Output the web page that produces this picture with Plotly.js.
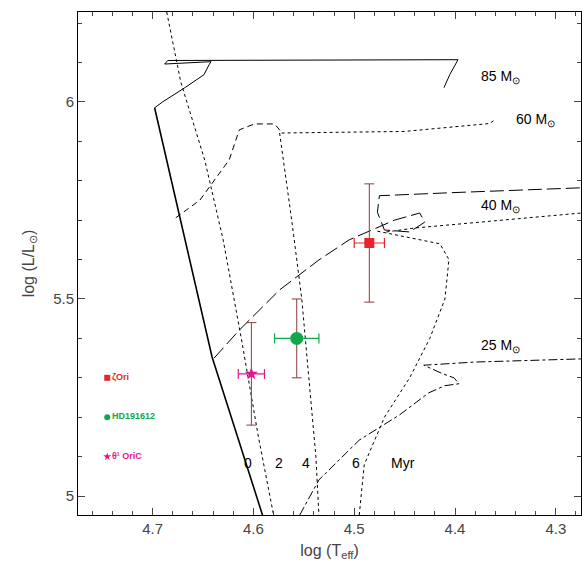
<!DOCTYPE html>
<html><head><meta charset="utf-8">
<script src="https://cdn.plot.ly/plotly-3.0.1.min.js"></script>
<style>body{margin:0}#p{width:582px;height:574px}</style>
</head><body><div id="p"></div>
<script>
// evolutionary tracks (log Teff, log L)
const zamsT = [4.591, 4.641, 4.698];
const zamsL = [4.952, 5.353, 5.985];
const t85T = [4.698, 4.690, 4.668, 4.649, 4.644, 4.642, 4.688, 4.685, 4.397, 4.405, 4.411];
const t85L = [5.985, 6.000, 6.036, 6.069, 6.094, 6.102, 6.096, 6.105, 6.107, 6.070, 6.036];
const t60T = [4.677, 4.653, 4.624, 4.614, 4.599, 4.579, 4.574, 4.572];
const t60L = [5.706, 5.751, 5.853, 5.929, 5.944, 5.944, 5.929, 5.921];
const t60dT = [4.572, 4.450, 4.366, 4.360];
const t60dL = [5.921, 5.925, 5.945, 5.955];
const t40T = [4.639, 4.614, 4.574, 4.535, 4.505, 4.485, 4.460, 4.435, 4.430, 4.445, 4.470, 4.477, 4.475, 4.400, 4.275];
const t40L = [5.350, 5.421, 5.523, 5.599, 5.650, 5.672, 5.700, 5.718, 5.695, 5.670, 5.675, 5.720, 5.762, 5.770, 5.782];
const t40dT = [4.468, 4.440, 4.275];
const t40dL = [5.670, 5.680, 5.718];
const t25T = [4.554, 4.535, 4.495, 4.455, 4.426, 4.410, 4.396, 4.401, 4.412, 4.431, 4.380, 4.275];
const t25L = [4.952, 5.041, 5.142, 5.206, 5.262, 5.280, 5.285, 5.300, 5.310, 5.332, 5.340, 5.348];
// isochrones
const iso2T = [4.686, 4.672, 4.648, 4.630, 4.612, 4.595, 4.580];
const iso2L = [6.228, 6.050, 5.850, 5.650, 5.400, 5.150, 4.952];
const iso4T = [4.574, 4.562, 4.552, 4.545, 4.538, 4.535];
const iso4L = [5.921, 5.700, 5.500, 5.300, 5.100, 4.952];
const iso6T = [4.477, 4.445, 4.415, 4.406, 4.410, 4.425, 4.445, 4.470, 4.490, 4.495];
const iso6L = [5.672, 5.655, 5.640, 5.600, 5.500, 5.400, 5.300, 5.200, 5.080, 4.952];
// stars
const starNames = ['ζOri', 'HD191612', 'θ¹ OriC'];
const starT = [4.485, 4.557, 4.602];
const starL = [5.642, 5.400, 5.310];
const errT = [0.015, 0.022, 0.013];
const errL = [0.15, 0.10, 0.13];
const starColors = ['#e8252b', '#10a84a', '#e0188a'];
const starSymbols = ['square', 'circle', 'star'];
const starSizes = [10, 13, 10];

function line(x, y, dash, w) {
  return {x: x, y: y, mode: 'lines', line: {color: 'black', width: w || 1, dash: dash}, hoverinfo: 'skip'};
}
const data = [
  line(zamsT, zamsL, 'solid', 1.6),
  line(t85T, t85L, 'solid'),
  line(t60T, t60L, '6px,4px'),
  line(t60dT, t60dL, 'dot'),
  line(t40T, t40L, '14px,5px'),
  line(t40dT, t40dL, 'dot'),
  line(t25T, t25L, 'dashdot'),
  line(iso2T, iso2L, 'dot'),
  line(iso4T, iso4L, 'dot'),
  line(iso6T, iso6L, 'dot')
];
starNames.forEach((n, i) => {
  data.push({x: [starT[i]], y: [starL[i]], mode: 'markers',
    marker: {color: starColors[i], symbol: starSymbols[i], size: starSizes[i]},
    error_x: {type: 'constant', value: errT[i], color: starColors[i], thickness: 1.2, width: 5},
    error_y: {type: 'constant', value: errL[i], color: '#8b3a3a', thickness: 1, width: 5}});
  data.push({x: [4.745], y: [5.30 - 0.1 * i], mode: 'markers+text', text: ['<b>' + n + '</b>'], textposition: 'middle right',
    textfont: {family: 'Liberation Sans', size: 9, color: starColors[i]},
    marker: {color: starColors[i], symbol: starSymbols[i], size: 6}});
});

const ann = [
  ['85 M<sub>⊙</sub>', 4.355, 6.062], ['60 M<sub>⊙</sub>', 4.32, 5.955],
  ['40 M<sub>⊙</sub>', 4.355, 5.735], ['25 M<sub>⊙</sub>', 4.355, 5.38],
  ['0', 4.605, 5.085], ['2', 4.575, 5.085], ['4', 4.548, 5.085], ['6', 4.498, 5.085], ['Myr', 4.452, 5.085]
].map(a => ({text: a[0], x: a[1], y: a[2], showarrow: false, xanchor: 'center',
  font: {family: 'Liberation Sans', size: 14, color: 'black'}}));

const ax = {showgrid: false, zeroline: false, ticks: 'inside', mirror: 'ticks', showline: true,
  linecolor: 'black', linewidth: 1, ticklen: 7,
  tickfont: {family: 'Liberation Sans', size: 15}};
Plotly.newPlot('p', data, {
  width: 582, height: 574, showlegend: false,
  margin: {l: 78, r: 1, t: 12, b: 59},
  paper_bgcolor: 'white', plot_bgcolor: 'white',
  xaxis: Object.assign({}, ax, {range: [4.774, 4.275], dtick: 0.1, minor: {ticks: 'inside', ticklen: 4, dtick: 0.02},
    title: {text: 'log (T<sub>eff</sub>)', font: {family: 'Liberation Sans', size: 16}, standoff: 8}}),
  yaxis: Object.assign({}, ax, {range: [4.952, 6.228], dtick: 0.5, minor: {ticks: 'inside', ticklen: 4, dtick: 0.1},
    title: {text: 'log (L/L<sub>⊙</sub>)', font: {family: 'Liberation Sans', size: 16}, standoff: 14}}),
  annotations: ann
}, {displayModeBar: false});
</script></body></html>
